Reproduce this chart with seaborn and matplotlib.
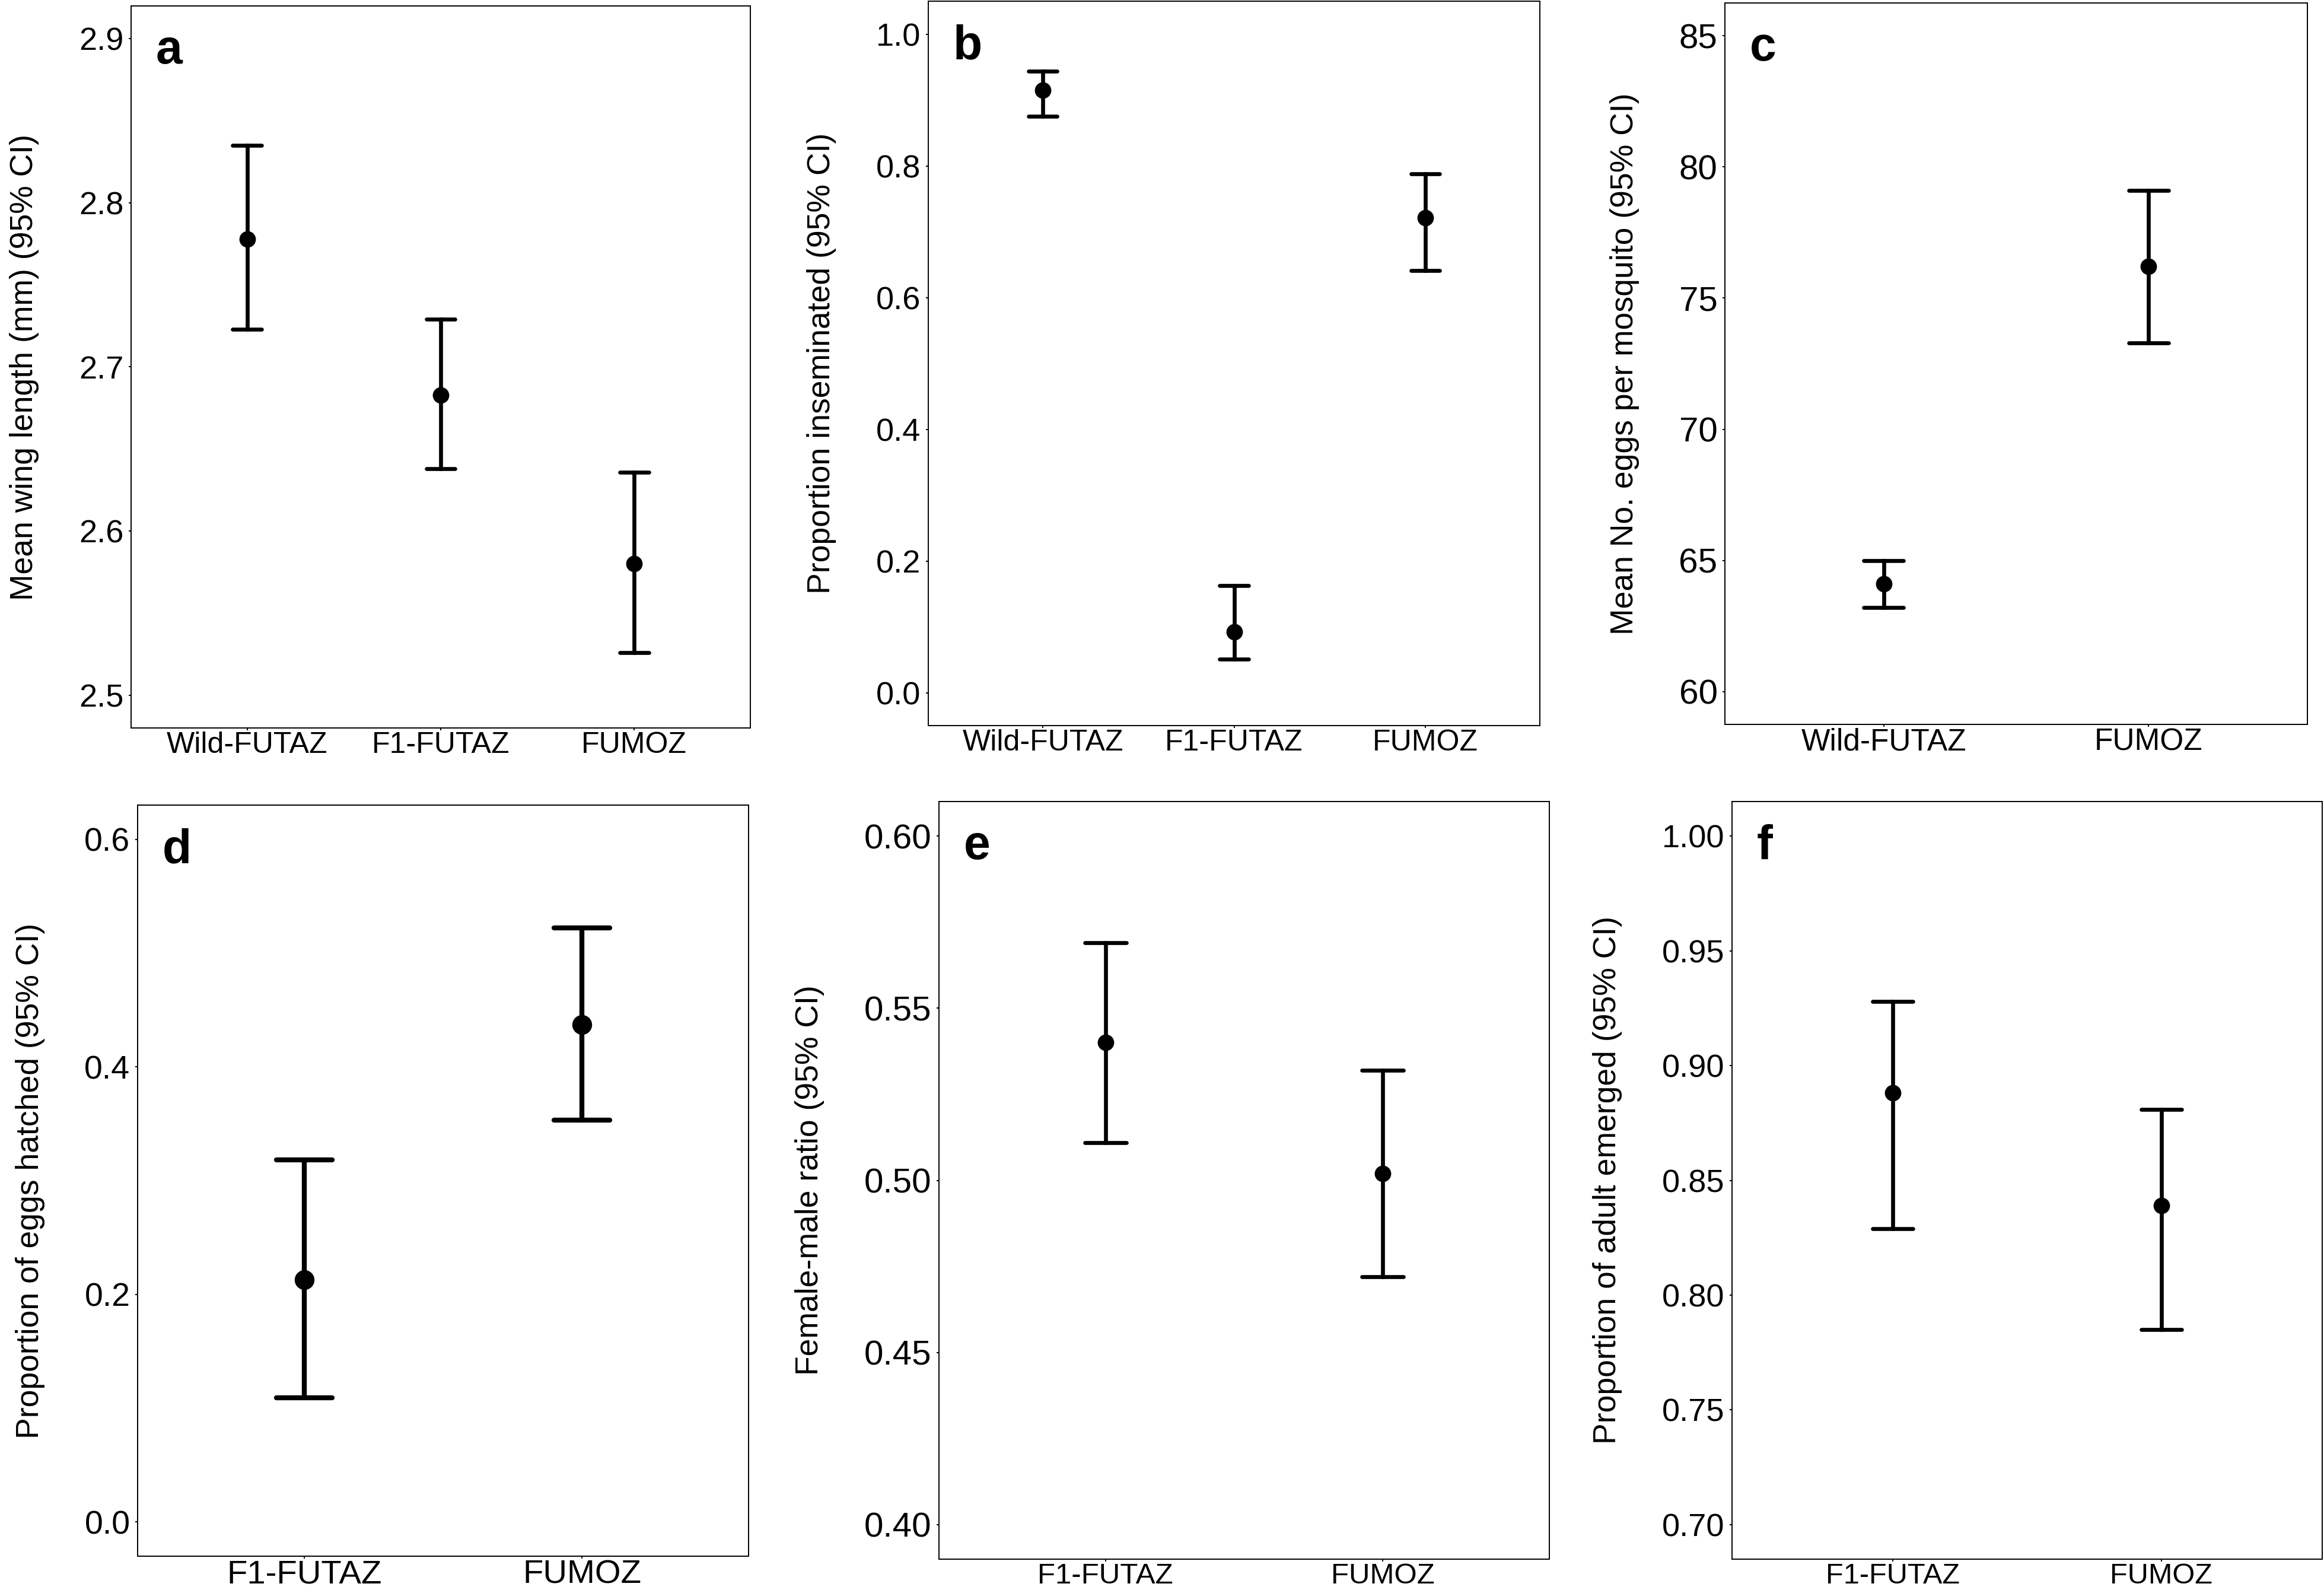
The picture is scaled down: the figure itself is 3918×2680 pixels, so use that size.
import pandas as pd
import matplotlib
matplotlib.use("Agg")
import matplotlib.pyplot as plt
import seaborn as sns

# Data: mean and 95% CI per strain
groups3 = ["Wild-FUTAZ", "F1-FUTAZ", "FUMOZ"]
groups_wild = ["Wild-FUTAZ", "FUMOZ"]
groups_f1 = ["F1-FUTAZ", "FUMOZ"]

wing_mean = [2.778, 2.683, 2.580]
wing_lo = [2.723, 2.638, 2.526]
wing_hi = [2.835, 2.729, 2.636]

insem_mean = [0.915, 0.092, 0.721]
insem_lo = [0.875, 0.051, 0.641]
insem_hi = [0.944, 0.163, 0.788]

eggs_mean = [64.1, 76.2]
eggs_lo = [63.2, 73.3]
eggs_hi = [65.0, 79.1]

hatch_mean = [0.213, 0.437]
hatch_lo = [0.109, 0.353]
hatch_hi = [0.318, 0.522]

sexratio_mean = [0.540, 0.502]
sexratio_lo = [0.511, 0.472]
sexratio_hi = [0.569, 0.532]

emerge_mean = [0.888, 0.839]
emerge_lo = [0.829, 0.785]
emerge_hi = [0.928, 0.881]

sns.set_style("ticks")
plt.rcParams["font.family"] = ["Liberation Sans", "DejaVu Sans"]
plt.rcParams["text.color"] = "black"
plt.rcParams["axes.labelcolor"] = "black"
plt.rcParams["xtick.color"] = "black"
plt.rcParams["ytick.color"] = "black"

fig = plt.figure(figsize=(39.18, 26.8), dpi=100)
W, H = 3918, 2680


def make_axes(x0, x1, y0, y1):
    return fig.add_axes([x0 / W, 1 - y1 / H, (x1 - x0) / W, (y1 - y0) / H])


def panel(ax, groups, mean, lo, hi, letter, ylabel, ylim, yticks, yfmt,
          xsize=36, ysize=39, cap=0.15, lw=4.8, ms=20):
    # long table: lo, mean, hi per group -> median = mean, (min, max) = CI
    rows = []
    for g, m, l, h in zip(groups, mean, lo, hi):
        for v in (l, m, h):
            rows.append({"group": g, "value": v})
    df = pd.DataFrame(rows)
    sns.pointplot(data=df, x="group", y="value", order=groups, ax=ax,
                  estimator="median", errorbar=lambda v: (v.min(), v.max()),
                  color="black", linestyle="none", markers="o",
                  markersize=ms, markeredgewidth=0, capsize=cap,
                  err_kws={"linewidth": lw})
    n = len(groups)
    ax.set_xlim(-0.6, n - 0.4)
    ax.set_ylim(*ylim)
    ax.set_yticks(yticks)
    ax.set_yticklabels([yfmt.format(t) for t in yticks])
    ax.set_xlabel("")
    ax.set_ylabel(ylabel, fontsize=38.5, labelpad=48, color="black")
    ax.tick_params(axis="x", labelsize=xsize, length=3, width=1.4, pad=1,
                   colors="black")
    ax.tick_params(axis="y", labelsize=ysize, length=3, width=1.4, pad=6,
                   colors="black")
    for s in ax.spines.values():
        s.set_visible(True)
        s.set_linewidth(1.4)
        s.set_color("black")
    ax.annotate(letter, xy=(0, 1), xycoords="axes fraction",
                xytext=(30, -70), textcoords="offset points", color="black",
                fontsize=58, fontweight="bold", ha="left", va="baseline")


ax_a = make_axes(221, 1265, 10, 1227)
ax_b = make_axes(1565, 2596, 2, 1223)
ax_c = make_axes(2908, 3890, 5, 1221)
ax_d = make_axes(232, 1262, 1357, 2623)
ax_e = make_axes(1583, 2612, 1351, 2628)
ax_f = make_axes(2920, 3915, 1351, 2628)

panel(ax_a, groups3, wing_mean, wing_lo, wing_hi, "a",
      "Mean wing length (mm) (95% CI)", (2.48, 2.92),
      [2.5, 2.6, 2.7, 2.8, 2.9], "{:.1f}", xsize=36)
panel(ax_b, groups3, insem_mean, insem_lo, insem_hi, "b",
      "Proportion inseminated (95% CI)", (-0.05, 1.05),
      [0.0, 0.2, 0.4, 0.6, 0.8, 1.0], "{:.1f}", xsize=36)
panel(ax_c, groups_wild, eggs_mean, eggs_lo, eggs_hi, "c",
      "Mean No. eggs per mosquito (95% CI)", (58.75, 86.25),
      [60, 65, 70, 75, 80, 85], "{:.0f}", xsize=37, ysize=42)
panel(ax_d, groups_f1, hatch_mean, hatch_lo, hatch_hi, "d",
      "Proportion of eggs hatched (95% CI)", (-0.03, 0.63),
      [0.0, 0.2, 0.4, 0.6], "{:.1f}", xsize=40.5, ysize=40,
      cap=0.2, lw=6, ms=24)
panel(ax_e, groups_f1, sexratio_mean, sexratio_lo, sexratio_hi, "e",
      "Female-male ratio (95% CI)", (0.39, 0.61),
      [0.40, 0.45, 0.50, 0.55, 0.60], "{:.2f}", xsize=35.5, ysize=42)
panel(ax_f, groups_f1, emerge_mean, emerge_lo, emerge_hi, "f",
      "Proportion of adult emerged (95% CI)", (0.685, 1.015),
      [0.70, 0.75, 0.80, 0.85, 0.90, 0.95, 1.00], "{:.2f}", xsize=35)

fig.savefig("out.png", dpi=100, facecolor="white")
